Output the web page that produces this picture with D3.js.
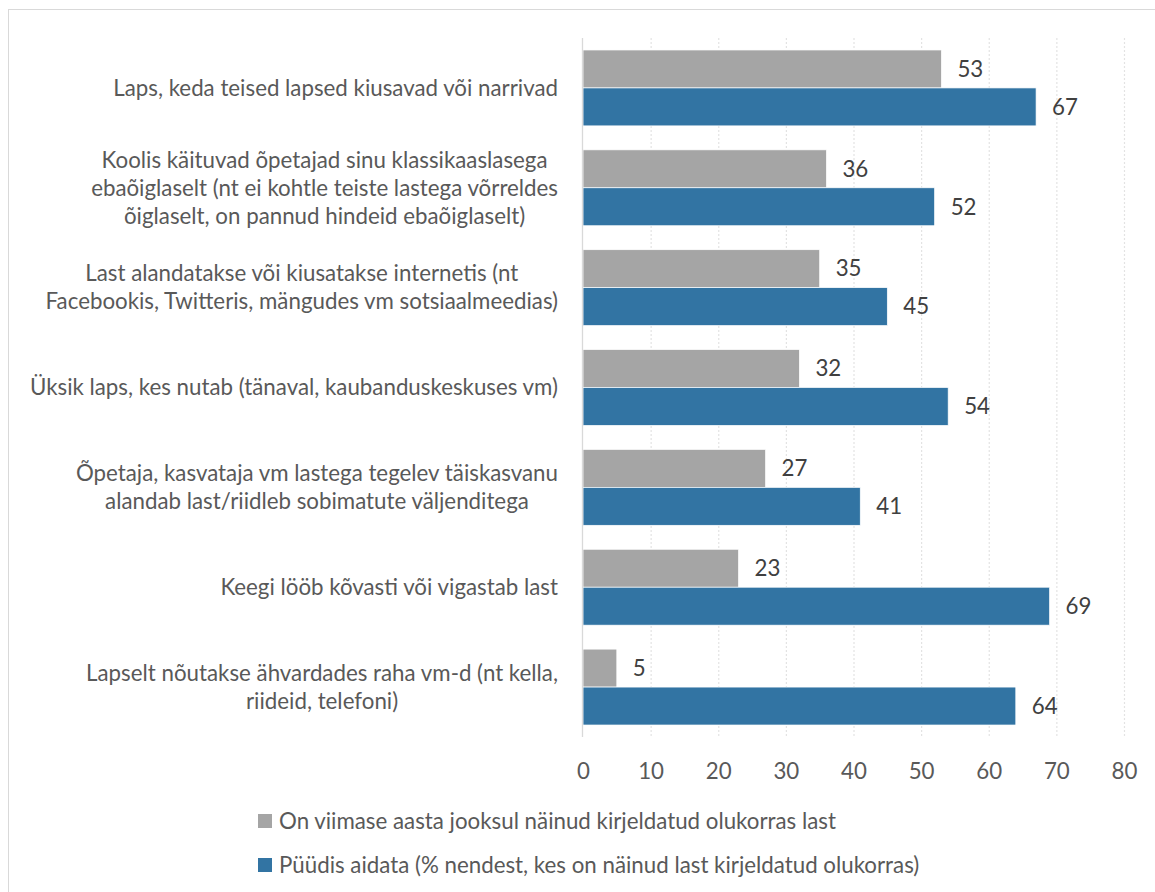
<!DOCTYPE html>
<html><head><meta charset="utf-8">
<script src="https://cdn.jsdelivr.net/npm/d3@7"></script>
<style>html,body{margin:0;padding:0;background:#fff;overflow:hidden}</style>
</head><body>
<svg id="chart" width="1155" height="892"></svg>
<script>
const categories = [
  ["Laps, keda teised lapsed kiusavad või narrivad"],
  ["Koolis käituvad õpetajad sinu klassikaaslasega", "ebaõiglaselt (nt ei kohtle teiste lastega võrreldes", "õiglaselt, on pannud hindeid ebaõiglaselt)"],
  ["Last alandatakse või kiusatakse internetis (nt", "Facebookis, Twitteris, mängudes vm sotsiaalmeedias)"],
  ["Üksik laps, kes nutab (tänaval, kaubanduskeskuses vm)"],
  ["Õpetaja, kasvataja vm lastega tegelev täiskasvanu", "alandab last/riidleb sobimatute väljenditega"],
  ["Keegi lööb kõvasti või vigastab last"],
  ["Lapselt nõutakse ähvardades raha vm-d (nt kella,", "riideid, telefoni)"]
];
const seen = [53, 36, 35, 32, 27, 23, 5];
const helped = [67, 52, 45, 54, 41, 69, 64];
const seriesNames = [
  "On viimase aasta jooksul näinud kirjeldatud olukorras last",
  "Püüdis aidata (% nendest, kes on näinud last kirjeldatud olukorras)"
];
const seriesColors = ["#A5A5A5", "#3274A3"];
const xTicks = [0, 10, 20, 30, 40, 50, 60, 70, 80];

(function () {
const svg = d3.select("#chart");
const FONT = "Lato, 'Open Sans', sans-serif";

const probe = svg.append("text").attr("font-family", FONT).attr("font-size", 20).text(categories[0][0]);
const w20 = probe.node().getComputedTextLength();
probe.remove();
const fs = 20 * 445 / w20;

svg.append("rect").attr("x", 8.5).attr("y", 9.5).attr("width", 1160).attr("height", 900)
  .attr("fill", "#fff").attr("stroke", "#d9d9d9").attr("stroke-width", 1);

const pL = 583, pR = 1124, pT = 38, pB = 737;
const x = d3.scaleLinear().domain([0, 80]).range([pL, pR]);
const y = d3.scaleBand().domain(d3.range(categories.length)).range([pT, pB]).paddingInner(0.24).paddingOuter(0.12);
const sub = d3.scaleBand().domain([0, 1]).range([0, y.bandwidth()]);

svg.append("g").selectAll("line").data(xTicks.filter(d => d > 0)).join("line")
  .attr("x1", d => x(d) + 0.5).attr("x2", d => x(d) + 0.5)
  .attr("y1", pT).attr("y2", pB)
  .attr("stroke", "#e3e3e3").attr("stroke-width", 1.2).attr("stroke-dasharray", "2,2");

const series = [seen, helped];
series.forEach((vals, si) => {
  const g = svg.append("g");
  g.selectAll("rect").data(vals).join("rect")
    .attr("x", x(0)).attr("y", (d, i) => y(i) + sub(si))
    .attr("width", d => x(d) - x(0)).attr("height", sub.bandwidth())
    .attr("fill", seriesColors[si]).attr("stroke", "#fff").attr("stroke-width", 0.7);
  g.selectAll("text").data(vals).join("text")
    .attr("x", d => x(d) + 16).attr("y", (d, i) => y(i) + sub(si) + sub.bandwidth() / 2)
    .attr("dy", "0.35em").attr("font-family", FONT).attr("font-size", fs).attr("fill", "#404040")
    .text(d => d);
});

svg.append("line").attr("x1", pL - 0.5).attr("x2", pL - 0.5).attr("y1", pT).attr("y2", pB)
  .attr("stroke", "#d9d9d9").attr("stroke-width", 1.3);

const xAxis = d3.axisBottom(x).tickValues(xTicks).tickSize(0).tickPadding(0);
const ax = svg.append("g").attr("transform", `translate(0,${pB + 34})`).call(xAxis);
ax.select(".domain").remove();
ax.selectAll("text").attr("font-family", FONT).attr("font-size", fs).attr("fill", "#595959").attr("dy", "0.35em").attr("y", 0);

const labelRight = 558;
const lineH = 28;
categories.forEach((lines, i) => {
  const g = svg.append("g");
  const t = g.append("text").attr("font-family", FONT).attr("font-size", fs).attr("fill", "#595959").attr("text-anchor", "middle");
  const cy = y(i) + y.bandwidth() / 2;
  lines.forEach((ln, j) => {
    t.append("tspan").attr("y", cy + (j - (lines.length - 1) / 2) * lineH).attr("dy", "0.35em").text(ln);
  });
  const maxW = d3.max(t.selectAll("tspan").nodes(), n => n.getComputedTextLength());
  t.selectAll("tspan").attr("x", labelRight - maxW / 2);
});

const legY = [821, 865];
seriesNames.forEach((name, i) => {
  svg.append("rect").attr("x", 258).attr("y", legY[i] - 7).attr("width", 14).attr("height", 14).attr("fill", seriesColors[i]);
  svg.append("text").attr("x", 279).attr("y", legY[i]).attr("dy", "0.35em")
    .attr("font-family", FONT).attr("font-size", fs).attr("fill", "#595959").text(name);
});
})();
</script>
</body></html>
